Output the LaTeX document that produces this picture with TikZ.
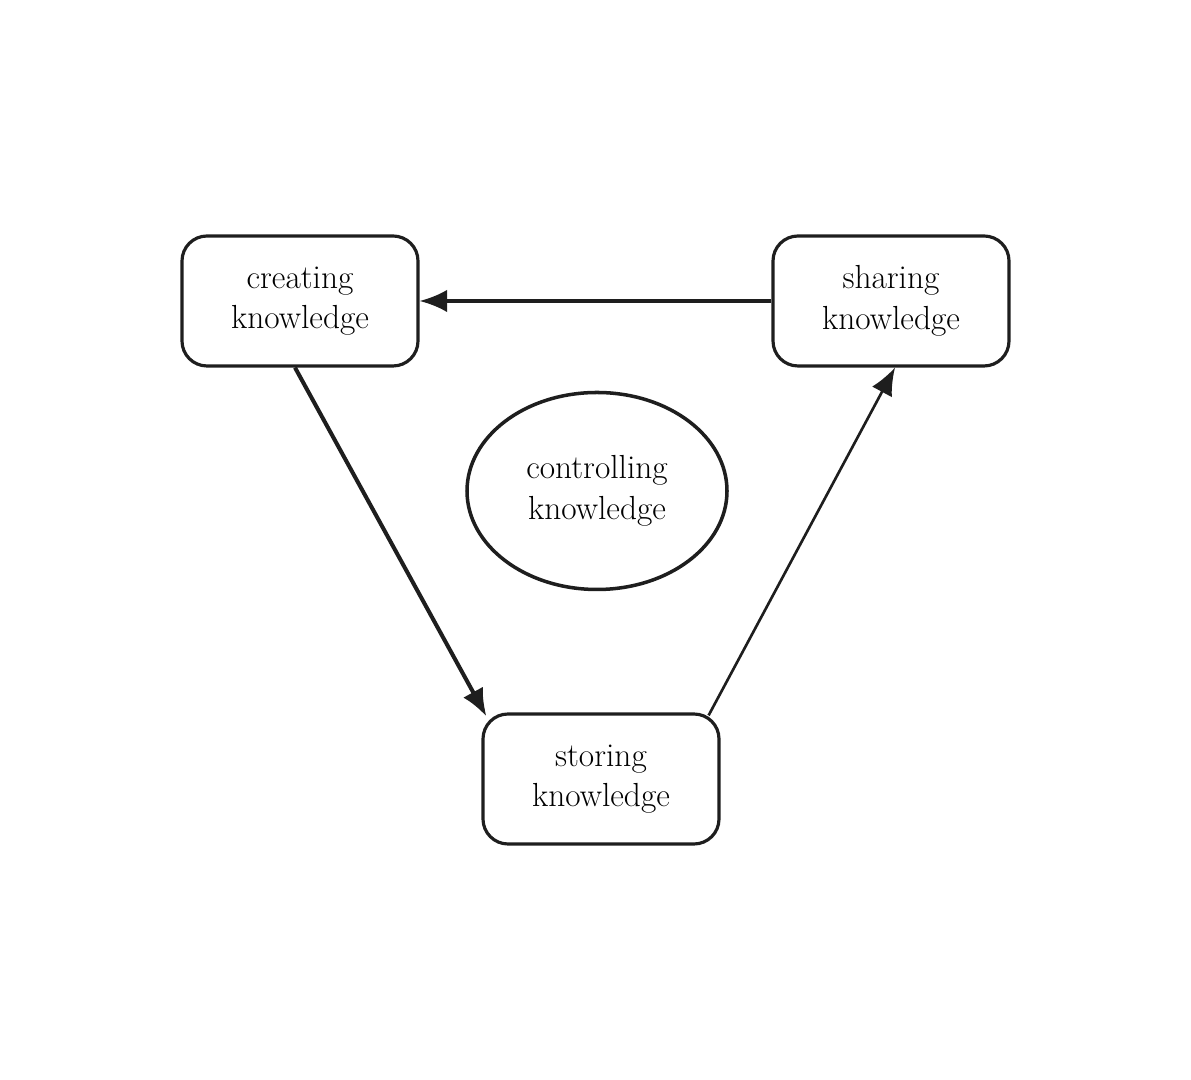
\documentclass[tikz,border=0pt]{standalone}
\usepackage{xcolor}
\usetikzlibrary{arrows.meta,positioning,shapes.geometric}
\definecolor{inkgray}{RGB}{30,30,30}

\begin{document}
\begin{tikzpicture}[
    box/.style={draw=inkgray, rounded corners=0.5cm, line width=1.8pt, minimum width=4.72cm, minimum height=2.6cm, align=center, fill=white, font=\fontsize{19}{23}\selectfont},
    blob/.style={draw=inkgray, ellipse, line width=2pt, minimum width=5.2cm, minimum height=3.94cm, align=center, fill=white, font=\fontsize{19}{23}\selectfont},
    arr/.style={-{Latex[length=0.55cm,width=0.45cm]}, line width=1.8pt, inkgray}
]
\useasboundingbox (0,0) rectangle (23.82,21.6);
\node[box] (create) at (6.00,15.58) {creating\\knowledge};
\node[box] (share) at (17.82,15.58) {sharing\\knowledge};
\node[box] (store) at (12.02,6.02) {storing\\knowledge};
\node[blob] (control) at (11.94,11.78) {controlling\\knowledge};

\draw[arr] (share.west) -- (create.east);
\draw[arr, line width=2.3pt] ([xshift=-0.1cm]create.south) -- ([xshift=0.1cm,yshift=-0.08cm]store.north west);
\draw[arr, line width=1.5pt] ([xshift=-0.24cm,yshift=-0.06cm]store.north east) -- ([xshift=0.08cm]share.south);
\end{tikzpicture}
\end{document}
